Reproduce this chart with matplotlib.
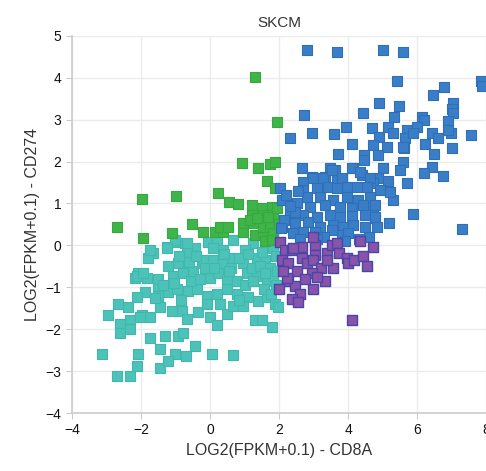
import matplotlib.pyplot as plt

plt.rcParams['font.family'] = ['Liberation Sans', 'DejaVu Sans']

# quadrant groups, CD8A (x) vs CD274 (y)
blue_x = [2.81, 3.68, 4.99, 5.57, 5.42, 7.83, 7.88, 6.78, 6.46, 4.90,
          5.48, 7.04, 7.01, 7.04, 4.43, 2.72, 5.33, 6.14, 6.20, 6.90,
          3.94, 4.70, 5.16, 5.99, 2.96, 3.59, 5.30, 5.71, 6.43, 6.96,
          7.54, 2.32, 4.90, 5.65, 6.61, 4.12, 4.72, 5.13, 6.23, 7.01,
          3.71, 4.46, 4.87, 5.62, 6.49, 4.46, 5.59, 2.67, 3.48, 3.62,
          4.14, 5.01, 5.51, 6.43, 6.20, 6.75, 2.96, 3.33, 3.68, 4.41,
          4.87, 5.16, 5.71, 2.03, 5.30, 5.86, 6.90, 5.88, 4.72, 4.93,
          5.22, 4.72, 4.78, 5.19, 7.30, 5.59, 2.70, 2.99, 3.28, 3.54,
          3.83, 4.12, 4.35, 4.64, 2.70, 3.10, 3.42, 3.68, 3.97, 4.26,
          4.55, 2.81, 3.19, 3.57, 3.97, 4.29, 4.64, 2.09, 2.52, 2.90,
          3.33, 3.77, 4.12, 4.43, 4.78, 2.32, 2.70, 3.10, 3.48, 3.77,
          4.12, 4.49, 4.78, 2.46, 2.84, 3.19, 3.57, 3.86, 4.14, 4.49,
          2.09, 2.41, 2.70, 3.04, 3.83, 3.54, 4.84, 2.46, 2.20, 2.55,
          2.15, 2.60, 3.30, 4.00, 4.30, 2.06, 2.30, 3.90, 4.60, 3.10]
blue_y = [4.67, 4.62, 4.67, 4.62, 3.92, 3.92, 3.80, 3.78, 3.59, 3.40,
          3.33, 3.40, 3.25, 3.16, 3.16, 3.11, 3.06, 3.06, 2.99, 2.97,
          2.82, 2.80, 2.82, 2.82, 2.68, 2.66, 2.68, 2.75, 2.68, 2.68,
          2.63, 2.56, 2.58, 2.56, 2.56, 2.42, 2.39, 2.34, 2.42, 2.32,
          2.18, 2.15, 2.15, 2.32, 2.18, 2.03, 1.99, 1.84, 1.84, 1.79,
          1.84, 1.84, 1.79, 1.87, 1.72, 1.65, 1.63, 1.63, 1.56, 1.67,
          1.60, 1.53, 1.48, 1.36, 1.08, 0.74, 2.75, 2.68, 1.48, 1.32,
          1.27, 0.91, 0.65, 0.53, 0.38, 2.34, 1.51, 1.60, 1.60, 1.79,
          1.60, 1.84, 1.75, 1.60, 1.32, 1.36, 1.39, 1.36, 1.39, 1.39,
          1.39, 1.15, 1.15, 1.08, 1.15, 1.08, 1.15, 1.08, 1.00, 0.91,
          0.96, 0.91, 0.89, 0.96, 0.96, 0.77, 0.72, 0.67, 0.72, 0.67,
          0.69, 0.72, 0.67, 0.53, 0.55, 0.43, 0.48, 0.43, 0.48, 0.45,
          0.43, 0.29, 0.31, 0.31, 0.24, 0.36, 0.43, 0.79, 1.20, 1.30,
          0.60, 0.15, 0.20, 0.30, 0.15, 0.41, 0.95, 0.10, 0.20, 0.15]

green_x = [1.30, 1.94, 0.93, 1.39, 1.74, 1.88, 1.65, 1.88, -1.97, -0.99,
           0.23, 0.55, 0.81, 1.22, 1.51, 1.80, 1.25, 1.54, 1.83, -2.70,
           -1.94, -1.10, -0.52, -0.20, 0.14, 0.38, 0.29, 0.52, 0.96, 0.96,
           1.25, 1.30, 1.54, 1.54, 1.74, 1.83, 1.22, 1.83, 1.16, 1.36,
           1.68, 1.59, 1.80, 1.98, 1.95]
green_y = [4.02, 2.94, 1.96, 1.84, 1.94, 1.99, 1.53, 1.36, 1.10, 1.17,
           1.24, 1.03, 0.98, 0.96, 0.89, 0.91, 0.67, 0.72, 0.67, 0.45,
           0.17, 0.29, 0.50, 0.31, 0.31, 0.31, 0.45, 0.43, 0.31, 0.53,
           0.53, 0.24, 0.29, 0.43, 0.43, 0.29, 0.72, 0.72, 0.60, 0.65,
           0.67, 0.10, 0.12, 0.50, 0.90]

teal_x = [-1.01, -0.72, -0.43, -0.06, 0.20, 0.67, 0.38, 0.09, 1.25, 1.65,
          1.83, -1.65, -1.25, -0.67, -1.80, -1.22, -0.93, -0.49, -0.23, 0.09,
          0.38, 0.67, 0.96, 1.36, 1.59, 1.74, -2.09, -2.17, -1.83, -1.51,
          -1.07, -0.78, 0.00, 0.23, 0.49, 0.78, 1.07, 1.36, 1.65, 1.83,
          -1.88, -2.12, -1.51, -1.22, -0.96, -0.64, -0.38, -0.09, 0.20, 0.49,
          0.78, 1.10, 1.39, 1.65, 1.88, -2.67, -2.38, -2.96, -1.97, -1.74,
          -1.45, -1.10, -0.81, -0.67, -0.35, 0.00, 0.20, 0.49, 0.67, 1.30,
          1.80, -2.61, -2.61, -2.32, -2.32, -2.03, -1.74, -1.45, -1.30, -0.93,
          -0.78, -0.43, -1.01, -0.70, 0.06, 0.67, -3.13, -2.09, -2.12, -1.45,
          -1.22, -2.70, -2.32, -1.74, -1.01, -1.25, -0.67, -2.12, -1.94, 1.97,
          1.51, 1.00, 1.50, 1.90, 1.20, 1.90, 1.55, 1.00, 0.60, 1.75,
          1.95, 1.45, 0.85, -0.20, 0.40, 1.10, -0.60, 0.30, -1.50, 0.95,
          -0.90, -0.40, -1.35, -0.15, 0.55, 1.25, -0.55, -1.05, 0.10, -1.60,
          -0.30, 0.85, 1.60, -0.85, -0.10]
teal_y = [0.07, 0.05, -0.07, 0.07, 0.12, 0.12, -0.12, -0.07, 0.05, 0.12,
          -0.07, -0.17, -0.05, -0.17, -0.31, -0.48, -0.43, -0.60, -0.41, -0.36,
          -0.41, -0.29, -0.43, -0.31, -0.36, -0.55, -0.65, -0.77, -0.77, -0.79,
          -0.72, -0.67, -0.77, -0.67, -0.79, -0.84, -0.67, -0.72, -0.84, -0.72,
          -1.12, -1.24, -1.03, -1.12, -1.03, -1.08, -1.03, -1.20, -1.15, -1.03,
          -1.15, -1.24, -1.32, -1.24, -1.39, -1.39, -1.48, -1.67, -1.67, -1.72,
          -1.48, -1.56, -1.56, -1.75, -1.60, -1.72, -1.91, -1.63, -1.44, -1.79,
          -1.94, -1.87, -2.08, -1.79, -1.99, -1.72, -2.22, -2.46, -2.15, -2.15,
          -2.08, -2.39, -2.58, -2.63, -2.58, -2.61, -2.58, -2.58, -2.87, -2.92,
          -2.75, -3.11, -3.11, -0.12, 0.12, -0.07, 0.05, -0.72, -0.65, -1.46,
          -1.79, -0.10, -0.15, -0.25, -0.55, -0.95, -1.05, -0.95, -0.55, -1.15,
          -0.60, -0.50, -0.30, -0.35, -0.20, -0.20, -0.40, -1.40, -1.20, -1.45,
          -0.25, -0.25, -0.95, -0.55, -0.60, -0.85, -0.85, -0.90, -0.55, -1.25,
          -0.80, -1.30, -0.65, -1.30, -1.40]

purple_x = [2.03, 2.17, 2.38, 2.67, 3.04, 3.04, 3.39, 3.54, 3.68, 3.74,
            4.35, 2.09, 2.26, 2.67, 2.81, 2.99, 3.22, 3.57, 3.97, 4.00,
            4.17, 4.43, 4.55, 4.72, 3.39, 3.33, 2.99, 2.96, 2.99, 2.52,
            2.26, 2.46, 2.61, 2.38, 2.55, 2.00, 2.23, 4.12, 2.41, 2.75,
            3.10, 2.10]
purple_y = [0.07, -0.12, -0.12, -0.05, 0.00, -0.24, -0.17, 0.00, 0.05, -0.19,
            0.10, -0.36, -0.41, -0.31, -0.41, -0.36, -0.53, -0.55, -0.29, -0.41,
            -0.34, -0.26, -0.48, -0.05, -0.36, -0.86, -1.05, -0.65, 0.19, -0.60,
            -0.84, -0.98, -1.15, -1.29, -1.34, -1.05, -0.77, -1.77, -0.07, -0.80,
            -0.75, -0.60]

xticks = [-4, -2, 0, 2, 4, 6, 8]
yticks = [-4, -3, -2, -1, 0, 1, 2, 3, 4, 5]

fig = plt.figure(figsize=(4.86, 4.71), dpi=100)
ax = fig.add_axes([0.148, 0.123, 0.853, 0.801])

ms = 50
ax.scatter(teal_x, teal_y, s=ms, marker='s', color='#4dc2b8', edgecolors='#3fb8ad', linewidths=0.8, zorder=3)
ax.scatter(green_x, green_y, s=ms, marker='s', color='#3fb449', edgecolors='#35a840', linewidths=0.8, zorder=3)
ax.scatter(blue_x, blue_y, s=ms, marker='s', color='#3b7ec8', edgecolors='#2f6fb8', linewidths=0.8, zorder=3)
ax.scatter(purple_x, purple_y, s=ms, marker='s', color='#8853a8', edgecolors='#4a45a8', linewidths=1.0, zorder=4)

ax.set_xlim(-4, 8)
ax.set_ylim(-4, 5)
ax.set_xticks(xticks)
ax.set_yticks(yticks)
ax.grid(True, color='#ebebeb', linewidth=1.0, zorder=0)
ax.set_axisbelow(True)

for s in ['top', 'right']:
    ax.spines[s].set_visible(False)
for s in ['left', 'bottom']:
    ax.spines[s].set_color('#cccccc')
    ax.spines[s].set_linewidth(1.2)
ax.tick_params(colors='#cccccc', labelcolor='#111111', labelsize=10, length=4)

ax.set_title('SKCM', fontsize=11, color='#333333', pad=6)
ax.set_xlabel('LOG2(FPKM+0.1) - CD8A', fontsize=11.5, color='#333333')
ax.set_ylabel('LOG2(FPKM+0.1) - CD274', fontsize=11.5, color='#333333')

fig.savefig('out.png', dpi=100)
